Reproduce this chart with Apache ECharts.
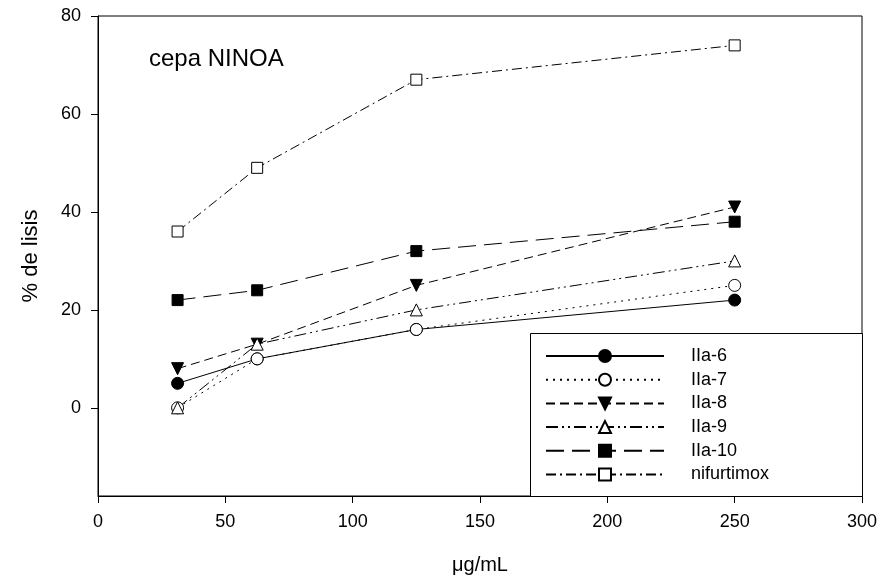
<!DOCTYPE html>
<html>
<head>
<meta charset="utf-8">
<script src="https://cdn.jsdelivr.net/npm/echarts@6/dist/echarts.min.js"></script>
<style>
    html, body { margin: 0; padding: 0; background: #fff; }
    #main { width: 883px; height: 578px; }
</style>
</head>
<body>
<div id="main"></div>
<script>
// concentraciones (µg/mL)
let doses = [31.25, 62.5, 125, 250];
let seriesNames = ["IIa-6", "IIa-7", "IIa-8", "IIa-9", "IIa-10", "nifurtimox"];
let lisisIIa6 = [5, 10, 16, 22];
let lisisIIa7 = [0, 10, 16, 25];
let lisisIIa8 = [8, 13, 25, 41];
let lisisIIa9 = [0, 13, 20, 30];
let lisisIIa10 = [22, 24, 32, 38];
let lisisNifurtimox = [36, 49, 67, 74];
let xTicks = [0, 50, 100, 150, 200, 250, 300];
let yTicks = [0, 20, 40, 60, 80];

const FONT = 'Arial, "Liberation Sans", sans-serif';

function pairs(values) {
    let out = [];
    for (let i = 0; i < doses.length; i++) {
        out.push([doses[i], values[i]]);
    }
    return out;
}

function makeSeries(name, values, symbol, filled, dash, rotate) {
    return {
        name: name,
        type: 'line',
        data: pairs(values),
        symbol: symbol,
        symbolSize: symbol === 'rect' ? 11 : 12,
        symbolRotate: rotate || 0,
        showAllSymbol: true,
        lineStyle: {color: '#000', width: 1, type: dash},
        itemStyle: {color: filled ? '#000' : '#fff', borderColor: '#000', borderWidth: 1},
        emphasis: {disabled: true},
        animation: false,
        z: 3
    };
}

var chart = echarts.init(document.getElementById('main'));
var option = {
    backgroundColor: '#fff',
    textStyle: {fontFamily: FONT, color: '#000'},
    title: {
        text: 'cepa NINOA',
        left: 149,
        top: 47,
        padding: 0,
        textStyle: {fontFamily: FONT, fontSize: 24, fontWeight: 'normal', color: '#000'}
    },
    grid: {
        left: 98, right: 21, top: 16, bottom: 82,
        outerBoundsMode: 'none',
        containLabel: false,
        show: true, borderColor: '#000', borderWidth: 1, backgroundColor: 'transparent'
    },
    graphic: [{
        type: 'rect',
        left: 530, top: 333,
        shape: {width: 332, height: 163},
        style: {fill: '#fff', stroke: '#000', lineWidth: 1},
        z: 3
    }],
    legend: {
        data: seriesNames,
        orient: 'vertical',
        left: 545,
        top: 347,
        padding: 0,
        itemWidth: 118,
        itemHeight: 15,
        itemGap: 5.7,
        selectedMode: false,
        textStyle: {fontFamily: FONT, fontSize: 18, lineHeight: 15, color: '#000', padding: [0, 0, 0, 22]},
        z: 5
    },
    xAxis: {
        type: 'value',
        min: 0, max: 300, interval: 50,
        name: 'μg/mL',
        nameLocation: 'middle',
        nameGap: 59,
        nameTextStyle: {fontFamily: FONT, fontSize: 20, color: '#000'},
        axisLine: {onZero: false, lineStyle: {color: '#000', width: 1}},
        axisTick: {length: 7, lineStyle: {color: '#000'}},
        axisLabel: {fontFamily: FONT, fontSize: 18, color: '#000', margin: 17,
            formatter: function (v) { return xTicks.indexOf(v) >= 0 ? String(v) : ''; }},
        splitLine: {show: false}
    },
    yAxis: {
        type: 'value',
        min: -18, max: 80,
        name: '% de lisis',
        nameLocation: 'middle',
        nameGap: 56,
        nameTextStyle: {fontFamily: FONT, fontSize: 22, color: '#000'},
        axisLine: {onZero: false, lineStyle: {color: '#000', width: 1}},
        axisTick: {length: 7, lineStyle: {color: '#000'}, customValues: yTicks},
        axisLabel: {fontFamily: FONT, fontSize: 18, color: '#000', margin: 17, customValues: yTicks},
        splitLine: {show: false}
    },
    series: [
        makeSeries(seriesNames[0], lisisIIa6, 'circle', true, 'solid'),
        makeSeries(seriesNames[1], lisisIIa7, 'circle', false, [2, 5]),
        makeSeries(seriesNames[2], lisisIIa8, 'triangle', true, [9, 5], 180),
        makeSeries(seriesNames[3], lisisIIa9, 'triangle', false, [12, 4, 2, 4, 2, 4]),
        makeSeries(seriesNames[4], lisisIIa10, 'rect', true, [18, 8]),
        makeSeries(seriesNames[5], lisisNifurtimox, 'rect', false, [10, 4, 2, 4])
    ]
};
chart.setOption(option);
</script>
</body>
</html>
